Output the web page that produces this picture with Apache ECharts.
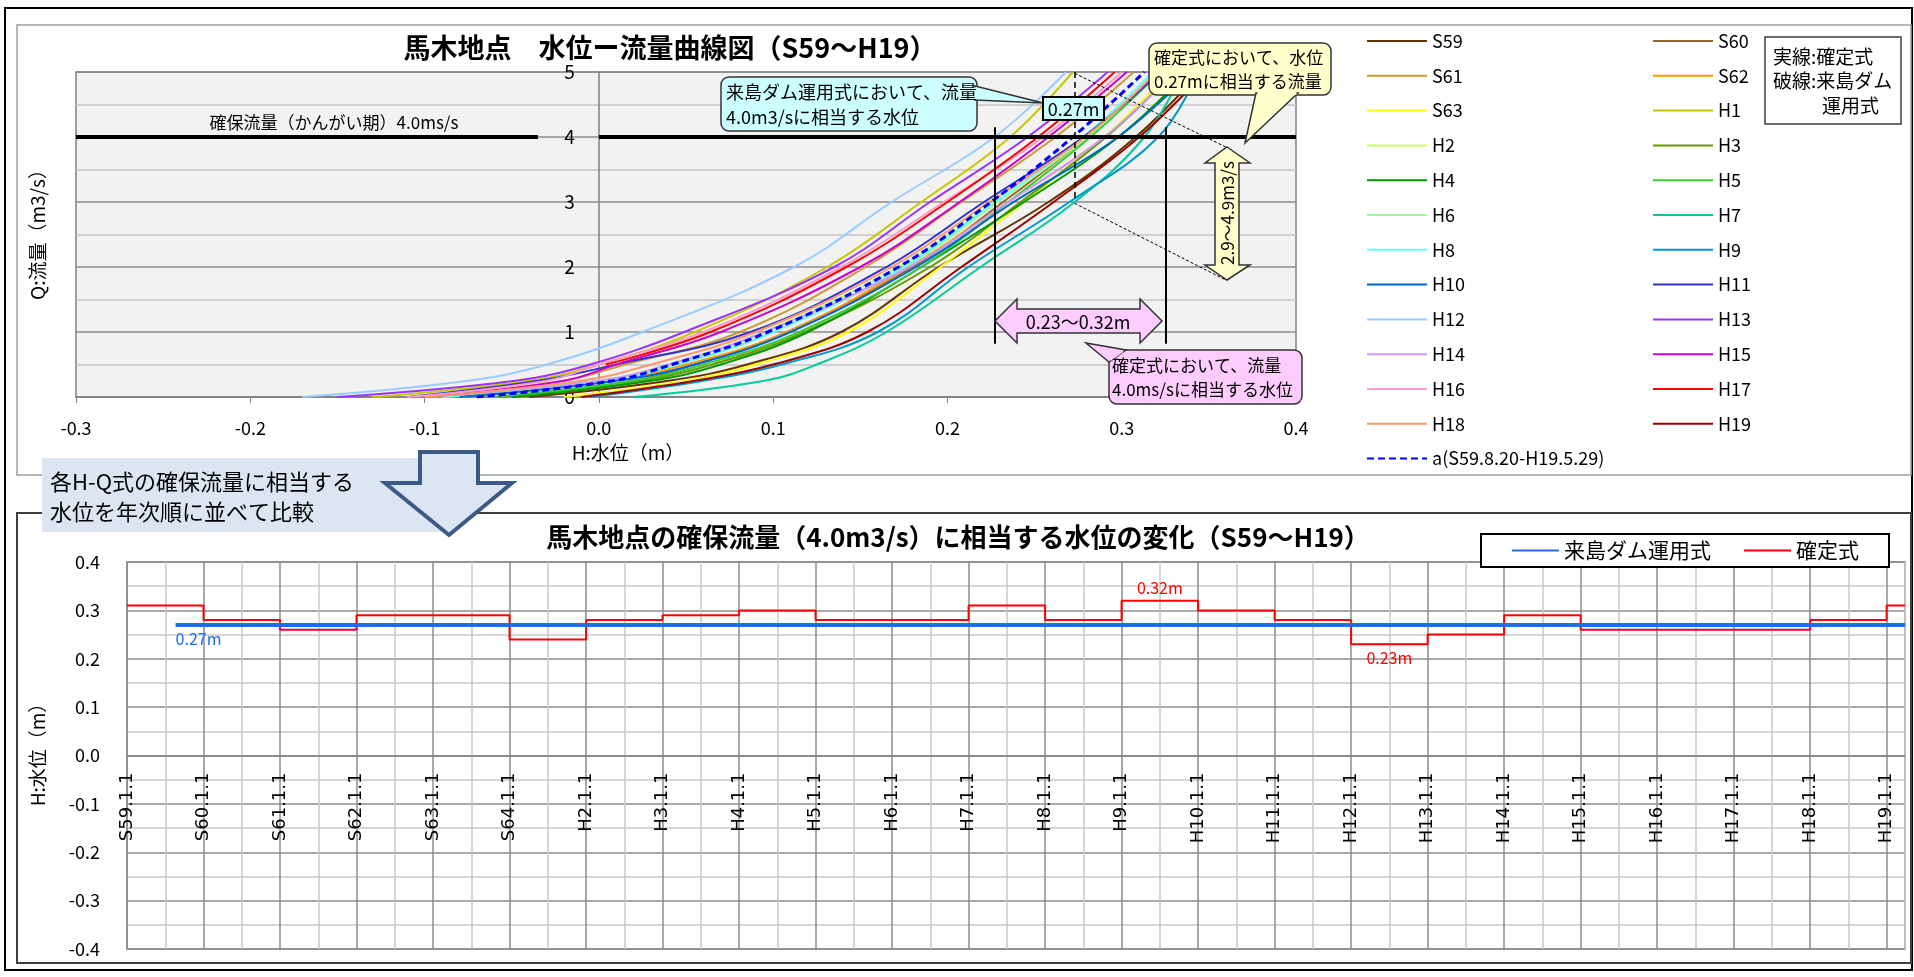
<!DOCTYPE html>
<html>
<head>
<meta charset="utf-8">
<title>馬木地点 水位ー流量曲線図</title>
<script src="https://cdn.jsdelivr.net/npm/echarts@6/dist/echarts.min.js"></script>
<style>
  html, body { margin: 0; padding: 0; background: #fff; }
  #box { width: 1914px; height: 977px; }
</style>
</head>
<body>
<div id="box"></div>
<script>
// 水位-流量曲線 : 各年のH-Q式を流量レベルごとの水位で読み取ったもの
var qLevels = [0, 0.25, 0.5, 1, 2, 3, 4, 5];

var hS59 = [-0.040, 0.040, 0.085, 0.139, 0.195, 0.258, 0.308, 0.345];
var hS60 = [-0.060, 0.020, 0.055, 0.108, 0.180, 0.232, 0.280, 0.322];
var hS61 = [-0.100, -0.020, 0.015, 0.081, 0.153, 0.208, 0.262, 0.307];
var hS62 = [-0.100, 0.005, 0.050, 0.108, 0.178, 0.235, 0.290, 0.330];
var hS63 = [-0.020, 0.050, 0.090, 0.143, 0.196, 0.244, 0.290, 0.328];
var hH1  = [-0.130, -0.040, 0.000, 0.055, 0.131, 0.185, 0.236, 0.272];
var hH2  = [-0.080, 0.005, 0.045, 0.100, 0.176, 0.229, 0.280, 0.321];
var hH3  = [-0.050, 0.025, 0.065, 0.118, 0.190, 0.242, 0.291, 0.330];
var hH4  = [-0.050, 0.030, 0.070, 0.120, 0.185, 0.244, 0.298, 0.338];
var hH5  = [-0.060, 0.020, 0.060, 0.115, 0.185, 0.235, 0.282, 0.322];
var hH6  = [-0.090, 0.000, 0.040, 0.095, 0.172, 0.227, 0.280, 0.320];
var hH7  = [0.020, 0.095, 0.125, 0.165, 0.219, 0.273, 0.313, 0.335];
var hH8  = [-0.090, 0.005, 0.045, 0.100, 0.175, 0.228, 0.278, 0.318];
var hH9  = [-0.005, 0.060, 0.105, 0.160, 0.212, 0.270, 0.321, 0.344];
var hH10 = [-0.080, 0.010, 0.055, 0.110, 0.182, 0.238, 0.298, 0.340];
var hH11 = [-0.110, -0.035, 0.010, 0.087, 0.165, 0.221, 0.278, 0.322];
var hH12 = [-0.170, -0.075, -0.030, 0.025, 0.112, 0.168, 0.227, 0.268];
var hH13 = [-0.150, -0.048, -0.005, 0.049, 0.135, 0.190, 0.246, 0.292];
var hH14 = [-0.100, 0.000, 0.040, 0.095, 0.178, 0.235, 0.290, 0.330];
var hH15 = [-0.100, -0.020, 0.010, 0.070, 0.150, 0.207, 0.258, 0.303];
var hH16 = [-0.110, -0.030, 0.000, 0.060, 0.139, 0.198, 0.255, 0.300];
var hH17 = [null, null, 0.004, 0.064, 0.142, 0.200, 0.252, 0.296];
var hH18 = [-0.100, -0.010, 0.030, 0.090, 0.168, 0.224, 0.279, 0.320];
var hH19 = [-0.010, 0.055, 0.100, 0.154, 0.208, 0.261, 0.310, 0.348];
var hA   = [-0.070, 0.008, 0.042, 0.097, 0.172, 0.225, 0.272, 0.313];

var curveNames = ['S59', 'S60', 'S61', 'S62', 'S63', 'H1', 'H2', 'H3', 'H4', 'H5', 'H6', 'H7',
                  'H8', 'H9', 'H10', 'H11', 'H12', 'H13', 'H14', 'H15', 'H16', 'H17', 'H18', 'H19'];
var curveH = [hS59, hS60, hS61, hS62, hS63, hH1, hH2, hH3, hH4, hH5, hH6, hH7,
              hH8, hH9, hH10, hH11, hH12, hH13, hH14, hH15, hH16, hH17, hH18, hH19];
var curveColors = ['#663300', '#996633', '#cc9933', '#ff9900', '#ffff00', '#c8c800', '#ccff66', '#669900',
                   '#009900', '#33cc33', '#99ff99', '#00cc99', '#66ffff', '#0099cc', '#0066cc', '#3333cc',
                   '#99ccff', '#9933ff', '#cc99ff', '#cc00cc', '#ff99cc', '#ff0000', '#ff9966', '#990000'];
var aName = 'a(S59.8.20-H19.5.29)';

// 確保流量と注記の位置(水位)
var reserveQ = 4.0;
var rangeLow = 0.227, rangeHigh = 0.325, damAt = 0.273;

// 下段 : 年次ごとの確保流量に相当する水位
var yearLabels = ['S59.1.1', 'S60.1.1', 'S61.1.1', 'S62.1.1', 'S63.1.1', 'S64.1.1', 'H2.1.1', 'H3.1.1',
                  'H4.1.1', 'H5.1.1', 'H6.1.1', 'H7.1.1', 'H8.1.1', 'H9.1.1', 'H10.1.1', 'H11.1.1',
                  'H12.1.1', 'H13.1.1', 'H14.1.1', 'H15.1.1', 'H16.1.1', 'H17.1.1', 'H18.1.1', 'H19.1.1'];
var firstYear = 1984;
var fixedH = [0.31, 0.28, 0.26, 0.29, 0.29, 0.24, 0.28, 0.29, 0.30, 0.28, 0.28, 0.31,
              0.28, 0.32, 0.30, 0.28, 0.23, 0.25, 0.29, 0.26, 0.26, 0.26, 0.28, 0.31];
var damH = 0.27;
var damStart = 1984.635;   // S59.8.20
var axisEnd = 2007.24;

var FONT = '"Noto Sans CJK JP", "Noto Sans", sans-serif';

var chart = echarts.init(document.getElementById('box'));

function curveData(hs) {
  var out = [];
  hs.forEach(function (h, i) {
    if (h !== null) out.push([h, qLevels[i]]);
  });
  return out;
}

var series = curveNames.map(function (name, i) {
  return {
    name: name, type: 'line', xAxisIndex: 0, yAxisIndex: 0,
    data: curveData(curveH[i]),
    smooth: 0.4, symbol: 'none', z: 3,
    lineStyle: { width: 2, color: curveColors[i] },
    itemStyle: { color: curveColors[i] }
  };
});
series.push({
  name: aName, type: 'line', xAxisIndex: 0, yAxisIndex: 0,
  data: curveData(hA),
  smooth: 0.4, symbol: 'none', z: 4,
  lineStyle: { width: 3, color: '#0000ff', type: [7, 4] },
  itemStyle: { color: '#0000ff' }
});

// 注記線 (確保流量の線、範囲の縦線、破線)
function seg(x1, y1, x2, y2, style) {
  return [{ coord: [x1, y1], lineStyle: style }, { coord: [x2, y2] }];
}
var thick = { color: '#000', width: 4, type: 'solid' };
var thin = { color: '#000', width: 2, type: 'solid' };
var dash = { color: '#000', width: 1.5, type: [6, 4] };
var dot = { color: '#000', width: 1, type: [3, 2] };
series.push({
  name: 'annot', type: 'line', xAxisIndex: 0, yAxisIndex: 0, data: [], z: 10,
  markLine: {
    silent: true, symbol: ['none', 'none'], animation: false,
    label: { show: false },
    data: [
      seg(-0.3, reserveQ, -0.035, reserveQ, thick),
      seg(0, reserveQ, 0.4, reserveQ, thick),
      seg(rangeLow, 0.82, rangeLow, 4.15, thin),
      seg(rangeHigh, 0.82, rangeHigh, 4.15, thin),
      seg(damAt, 5, damAt, 3.0, dash),
      seg(damAt, 4.98, 0.3597, 3.846, dot),
      seg(damAt, 2.98, 0.3597, 1.8, dot)
    ]
  }
});

// 下段
var fixedData = fixedH.map(function (v, i) { return [firstYear + i, v]; });
fixedData.push([axisEnd, fixedH[fixedH.length - 1]]);
var maxIdx = fixedH.indexOf(Math.max.apply(null, fixedH));
var minIdx = fixedH.indexOf(Math.min.apply(null, fixedH));

series.push({
  name: '確定式', type: 'line', xAxisIndex: 1, yAxisIndex: 1, step: 'end',
  data: fixedData, symbol: 'none', z: 3,
  lineStyle: { color: '#ff0000', width: 2 }, itemStyle: { color: '#ff0000' },
  markPoint: {
    symbol: 'circle', symbolSize: 0, animation: false,
    label: { show: true, formatter: '{c}m', color: '#ff0000', fontSize: 16, fontFamily: FONT },
    data: [
      { coord: [firstYear + maxIdx + 0.5, fixedH[maxIdx]], value: fixedH[maxIdx].toFixed(2), label: { offset: [0, -13] } },
      { coord: [firstYear + minIdx + 0.5, fixedH[minIdx]], value: fixedH[minIdx].toFixed(2), label: { offset: [0, 14] } }
    ]
  }
});
series.push({
  name: '来島ダム運用式', type: 'line', xAxisIndex: 1, yAxisIndex: 1,
  data: [[damStart, damH], [axisEnd, damH]], symbol: 'none', z: 4,
  lineStyle: { color: '#1a6ff0', width: 4 }, itemStyle: { color: '#1a6ff0' },
  markPoint: {
    symbol: 'circle', symbolSize: 0, animation: false,
    label: { show: true, formatter: '{c}m', color: '#1a6ff0', fontSize: 16, fontFamily: FONT, align: 'left', offset: [0, 14] },
    data: [{ coord: [damStart, damH], value: damH.toFixed(2) }]
  }
});

var col1 = curveNames.filter(function (n, i) { return i % 2 === 0; }).concat([aName]);
var col2 = curveNames.filter(function (n, i) { return i % 2 === 1; });
var legendText = { fontSize: 18, color: '#000', fontFamily: FONT };
var noSymbol = { opacity: 0, color: 'rgba(0,0,0,0)', borderWidth: 0 };

function txt(x, y, s, size, opt) {
  opt = opt || {};
  return {
    type: 'text', x: x, y: y, rotation: opt.rotation || 0, z: opt.z || 100, silent: true,
    style: {
      text: s, fontSize: size, fontFamily: FONT, fontWeight: opt.bold ? 'bold' : 'normal',
      fill: opt.color || '#000',
      align: opt.align || 'left', textAlign: opt.align || 'left',
      verticalAlign: 'middle', textVerticalAlign: 'middle'
    }
  };
}
function rect(x, y, w, h, style, r, z) {
  return { type: 'rect', z: z === undefined ? 100 : z, silent: true,
    shape: { x: x, y: y, width: w, height: h, r: r || 0 }, style: style };
}
function poly(points, style, z) {
  return { type: 'polygon', z: z === undefined ? 100 : z, silent: true,
    shape: { points: points }, style: style };
}

var graphics = [
  // 枠
  rect(5, 8, 1907, 962, { fill: 'none', stroke: '#000', lineWidth: 2 }, 0, 0),
  rect(17, 25, 1894, 450, { fill: 'none', stroke: '#a0a0a0', lineWidth: 1.5 }, 0, 0),
  rect(17, 513, 1894, 450, { fill: 'none', stroke: '#404040', lineWidth: 2 }, 0, 0),
  // タイトル
  txt(670, 48, '馬木地点　水位ー流量曲線図（S59〜H19）', 27, { bold: true, align: 'center' }),
  txt(958, 537, '馬木地点の確保流量（4.0m3/s）に相当する水位の変化（S59〜H19）', 26, { bold: true, align: 'center' }),
  // 軸名
  txt(628, 453, 'H:水位（m）', 19, { align: 'center' }),
  txt(38, 230, 'Q:流量（m3/s）', 19, { align: 'center', rotation: Math.PI / 2 }),
  txt(38, 750, 'H:水位（m）', 19, { align: 'center', rotation: Math.PI / 2 }),
  txt(334, 123, '確保流量（かんがい期）4.0ms/s', 17, { align: 'center' }),
  // 実線・破線の説明
  rect(1765, 37, 136, 87, { fill: '#fff', stroke: '#404040', lineWidth: 1.5 }),
  txt(1773, 57, '実線:確定式', 19),
  txt(1773, 81, '破線:来島ダム', 19),
  txt(1822, 106, '運用式', 19),
  // 来島ダム運用式の吹き出し
  rect(721, 77, 256, 54, { fill: '#ccffff', stroke: '#333', lineWidth: 1.5 }, 8),
  poly([[975, 86], [1043, 103], [975, 100]], { fill: '#ccffff', stroke: '#333', lineWidth: 1.5 }),
  rect(973, 87.5, 4, 11.5, { fill: '#ccffff' }),
  txt(726, 92, '来島ダム運用式において、流量', 18),
  txt(726, 117, '4.0m3/sに相当する水位', 18),
  rect(1043, 97, 61, 23, { fill: '#ccffff', stroke: '#000', lineWidth: 2 }),
  txt(1073.5, 109, '0.27m', 18, { align: 'center' }),
  // 確定式(水位)の吹き出し
  rect(1149, 43, 182, 52, { fill: '#ffffcc', stroke: '#333', lineWidth: 1.5 }, 8),
  poly([[1256, 93], [1245, 143], [1298, 93]], { fill: '#ffffcc', stroke: '#333', lineWidth: 1.5 }),
  rect(1257.5, 91, 39, 4, { fill: '#ffffcc' }),
  txt(1154, 58, '確定式において、水位', 17),
  txt(1154, 82, '0.27mに相当する流量', 17),
  // 流量範囲の矢印
  poly([[1227, 147], [1250, 163], [1239, 163], [1239, 265], [1250, 265], [1227, 280], [1205, 265], [1215, 265], [1215, 163], [1205, 163]],
       { fill: '#ffffcc', stroke: '#333', lineWidth: 1.5 }),
  txt(1228, 213, '2.9〜4.9m3/s', 17, { align: 'center', rotation: Math.PI / 2 }),
  // 水位範囲の矢印
  poly([[995, 321], [1017, 299], [1017, 309], [1140, 309], [1140, 299], [1162, 321], [1140, 343], [1140, 333], [1017, 333], [1017, 343]],
       { fill: '#ffccff', stroke: '#333', lineWidth: 1.5 }),
  txt(1078, 322, '0.23〜0.32m', 18, { align: 'center' }),
  // 確定式(流量)の吹き出し
  rect(1109, 350, 193, 54, { fill: '#ffccff', stroke: '#333', lineWidth: 1.5 }, 8),
  poly([[1109, 362], [1086, 343], [1126, 350]], { fill: '#ffccff', stroke: '#333', lineWidth: 1.5 }),
  poly([[1110.5, 361], [1110.5, 351.5], [1124, 351.5]], { fill: '#ffccff' }),
  txt(1112, 366, '確定式において、流量', 17),
  txt(1112, 390, '4.0ms/sに相当する水位', 17),
  // 説明ボックスと矢印
  rect(42, 458, 404, 74, { fill: '#dce6f2' }, 0, 110),
  poly([[420, 452], [478, 452], [478, 483], [512, 483], [449, 535], [385, 483], [420, 483]],
       { fill: '#dce6f2', stroke: '#3b5b86', lineWidth: 4 }, 111),
  txt(50, 482, '各H-Q式の確保流量に相当する', 22, { z: 112 }),
  txt(50, 512, '水位を年次順に並べて比較', 22, { z: 112 })
];

// 上段グリッドの位置 (水位0の線にQ軸を置く)
var g0 = { left: 76, top: 72, width: 1220, height: 325 };
var g1 = { left: 127, top: 562, width: 1778, height: 387 };
var hMin = -0.3, hMax = 0.4;
var qAxisOffset = -g0.width * (0 - hMin) / (hMax - hMin);
var dateAxisOffset = -g1.height / 2;

option = {
  animation: false,
  backgroundColor: '#fff',
  textStyle: { fontFamily: FONT },
  grid: [
    { left: g0.left, top: g0.top, width: g0.width, height: g0.height, show: true, backgroundColor: '#f2f2f2',
      borderColor: '#808080', borderWidth: 1.5, containLabel: false, outerBoundsMode: 'none' },
    { left: g1.left, top: g1.top, width: g1.width, height: g1.height, show: true, backgroundColor: '#fff',
      borderColor: '#808080', borderWidth: 1.5, containLabel: false, outerBoundsMode: 'none' }
  ],
  xAxis: [
    {
      gridIndex: 0, type: 'value', min: hMin, max: hMax, interval: 0.1, position: 'bottom',
      axisLine: { show: true, onZero: false, lineStyle: { color: '#808080', width: 1.5 } },
      axisTick: { show: true, length: 6, lineStyle: { color: '#808080' } },
      axisLabel: { fontSize: 18, color: '#000', margin: 22, formatter: function (v) { return v.toFixed(1); } },
      splitLine: { show: false }
    },
    {
      gridIndex: 1, type: 'value', min: firstYear, max: axisEnd, interval: 0.5,
      position: 'bottom', offset: dateAxisOffset,
      axisLine: { show: true, onZero: false, lineStyle: { color: '#808080', width: 1.5 } },
      axisTick: { show: false },
      axisLabel: {
        interval: 0, rotate: 90, margin: 17, fontSize: 18, color: '#000', fontFamily: 'DejaVu Sans',
        formatter: function (v) {
          return Number.isInteger(v) ? (yearLabels[v - firstYear] || '') : '';
        }
      },
      splitLine: { show: true, lineStyle: { color: ['#8c8c8c', '#c8c8c8'], width: 1.5 } }
    }
  ],
  yAxis: [
    {
      gridIndex: 0, type: 'value', min: 0, max: 5, interval: 0.5,
      position: 'left', offset: qAxisOffset,
      axisLine: { show: true, onZero: false, lineStyle: { color: '#808080', width: 1.5 } },
      axisTick: { show: false },
      axisLabel: {
        interval: 0, fontSize: 19, color: '#000', margin: 24,
        formatter: function (v) { return v % 1 === 0 ? String(v) : ''; }
      },
      splitLine: { show: true, lineStyle: { color: ['#8c8c8c', '#c4c4c4'], width: 1.5 } }
    },
    {
      gridIndex: 1, type: 'value', min: -0.4, max: 0.4, interval: 0.05,
      axisLine: { show: false },
      axisTick: { show: false },
      axisLabel: {
        interval: 0, fontSize: 18, color: '#000', margin: 27,
        formatter: function (v) { return Math.round(v * 100) % 10 === 0 ? v.toFixed(1) : ''; }
      },
      splitLine: { show: true, lineStyle: { color: ['#8c8c8c', '#c8c8c8'], width: 1.5 } }
    }
  ],
  legend: [
    { data: col1, left: 1366, top: 32, orient: 'vertical', itemWidth: 60, itemHeight: 20, itemGap: 16.8,
      padding: 0, selectedMode: false, textStyle: legendText, itemStyle: noSymbol },
    { data: col2, left: 1652, top: 32, orient: 'vertical', itemWidth: 60, itemHeight: 20, itemGap: 16.8,
      padding: 0, selectedMode: false, textStyle: legendText, itemStyle: noSymbol },
    { data: ['来島ダム運用式', '確定式'], left: 1481, top: 534, orient: 'horizontal',
      itemWidth: 47, itemHeight: 14, itemGap: 32, padding: [6, 30, 6, 30],
      borderColor: '#000', borderWidth: 2, backgroundColor: '#fff', selectedMode: false,
      itemStyle: noSymbol,
      textStyle: { fontSize: 21, color: '#000', fontFamily: FONT } }
  ],
  graphic: { elements: graphics },
  series: series
};

chart.setOption(option);
</script>
</body>
</html>
